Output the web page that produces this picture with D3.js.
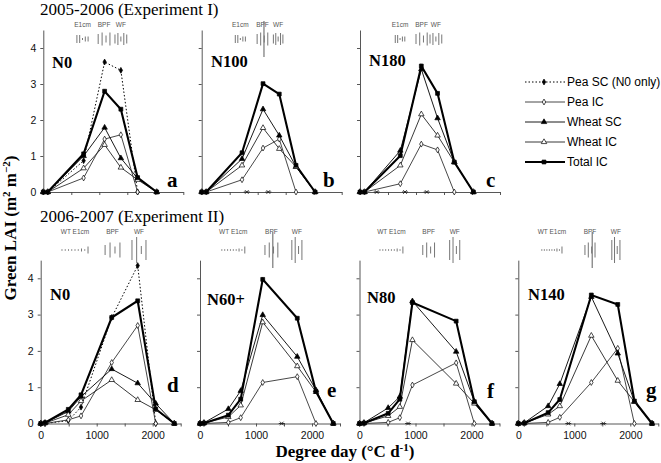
<!DOCTYPE html>
<html><head><meta charset="utf-8">
<script src="https://cdn.jsdelivr.net/npm/d3@7"></script>
<style>body{margin:0;background:#fff}svg{display:block}</style>
</head><body><svg id="c" width="661" height="463"></svg>
<script>
// ---------- DATA ----------
const xTicks = [0, 500, 1000, 1500, 2000, 2500];
const xTickLabels = [0, 1000, 2000];
const yTicks = [0, 1, 2, 3, 4];
const seriesNames = ["Pea SC (N0 only)", "Pea IC", "Wheat SC", "Wheat IC", "Total IC"];

// Experiment I (2005-2006): degree days of sampling
const xExp1 = [0, 80, 720, 1095, 1385, 1684, 2025];
const peaSC_a   = [0, 0, 0.87, 3.61, 3.38, 0, null];
const peaIC_a   = [0, 0, 0.39, 1.47, 1.59, 0, null];
const wheatSC_a = [0, 0, 1.00, 1.79, 0.94, 0.38, 0];
const wheatIC_a = [0, 0, 0.66, 1.31, 0.68, 0.34, 0];
const totalIC_a = [0, 0, 1.06, 2.80, 2.30, 0.40, 0];

const peaIC_b   = [0, 0, 0.34, 1.22, 1.47, 0, null];
const wheatSC_b = [0, 0, 0.92, 2.30, 1.57, 0.70, 0];
const wheatIC_b = [0, 0, 0.74, 1.78, 1.20, 0.70, 0];
const totalIC_b = [0, 0, 1.09, 3.01, 2.72, 0.74, 0];

const peaIC_c   = [0, 0, 0.23, 1.33, 1.17, 0, null];
const wheatSC_c = [0, 0, 1.15, 3.41, 2.05, 0.83, 0];
const wheatIC_c = [0, 0, 0.74, 2.16, 1.57, 0.83, 0];
const totalIC_c = [0, 0, 1.01, 3.50, 2.74, 0.83, 0];

// Experiment II (2006-2007)
const x_d = [0, 77, 493, 720, 1268, 1732, 2054, 2386];
const peaSC_d   = [0, 0, 0.08, 0.45, 2.92, 4.35, 0, null];
const peaIC_d   = [0, 0, 0.10, 0.21, 1.68, 2.70, 0, null];
const wheatSC_d = [0, 0.02, 0.33, 0.74, 1.50, 1.11, 0.55, 0];
const wheatIC_d = [0, 0.01, 0.24, 0.62, 1.20, 0.65, 0.38, 0];
const totalIC_d = [0, 0.02, 0.39, 0.79, 2.92, 3.38, 0.40, 0];

const x_e = [0, 71, 506, 727, 1120, 1737, 2071, 2380];
const peaIC_e   = [0, 0, 0.03, 0.16, 1.13, 1.29, 0, null];
const wheatSC_e = [0, 0.02, 0.40, 0.90, 2.99, 1.84, 0.92, 0];
const wheatIC_e = [0, 0.01, 0.18, 0.50, 2.79, 1.58, 0.87, 0];
const totalIC_e = [0, 0.01, 0.23, 0.67, 3.97, 2.90, 0.88, 0];

const x_f = [0, 80, 512, 720, 945, 1726, 2051, 2366];
const peaIC_f   = [0, 0, 0.03, 0.16, 1.06, 1.67, 0, null];
const wheatSC_f = [0, 0.02, 0.43, 0.74, 3.37, 1.98, 0.60, 0];
const wheatIC_f = [0, 0.01, 0.21, 0.46, 2.30, 1.10, 0.55, 0];
const totalIC_f = [0, 0.01, 0.28, 0.67, 3.33, 2.82, 0.60, 0];

const x_g = [0, 107, 533, 741, 1304, 1776, 2073, 2387];
const peaIC_g   = [0, 0, 0.03, 0.17, 1.13, 2.07, 0, null];
const wheatSC_g = [0, 0.02, 0.48, 1.09, 3.49, 1.93, 0.60, 0];
const wheatIC_g = [0, 0.01, 0.25, 0.48, 2.42, 1.18, 0.60, 0];
const totalIC_g = [0, 0.01, 0.30, 0.66, 3.54, 3.28, 0.62, 0];

// zero-value asterisk markers on the x axis (degree days)
const zeroMarks_b = [805, 1190];
const zeroMarks_c = [298, 804, 1191];
const zeroMarks_e = [1460];
const zeroMarks_f = [867];
const zeroMarks_g = [893, 1518];

// phenological stages (degree-day windows)
const stageNames1 = ["E1cm", "BPF", "WF"];
const stageNames2 = ["WT E1cm", "BPF", "WF"];
const stages_a = [[600, 800], [980, 1190], [1280, 1490]];
const stages_b = [[600, 780], [990, 1180], [1280, 1450]];
const stages_c = [[630, 800], [1000, 1200], [1250, 1460]];
const stages_d = [[380, 845], [1150, 1415], [1630, 1880]];
const stages_e = [[390, 800], [1160, 1390], [1640, 1820]];
const stages_f = [[365, 775], [1130, 1340], [1610, 1790]];
const stages_g = [[420, 780], [1190, 1370], [1670, 1815]];

// ---------- LAYOUT ----------
const svg = d3.select("#c");
const W = 140;
const serif = "'Liberation Serif','Times New Roman',serif";
const sans = "'Liberation Sans',Arial,sans-serif";

const panels = [
  {left: 43.3, zero: 192, unit: 36, row: 1, name: "N0", letter: "a", nx: 52, ny: 68, lx: 167, ly: 187,
   x: xExp1, s: [peaSC_a, peaIC_a, wheatSC_a, wheatIC_a, totalIC_a], marks: [], stages: stages_a, yLab: true, xLab: false},
  {left: 201.7, zero: 192, unit: 36, row: 1, name: "N100", letter: "b", nx: 211, ny: 67, lx: 323, ly: 187,
   x: xExp1, s: [null, peaIC_b, wheatSC_b, wheatIC_b, totalIC_b], marks: zeroMarks_b, stages: stages_b, yLab: false, xLab: false, long: 1112},
  {left: 360, zero: 192, unit: 36, row: 1, name: "N180", letter: "c", nx: 369, ny: 66, lx: 486, ly: 187,
   x: xExp1, s: [null, peaIC_c, wheatSC_c, wheatIC_c, totalIC_c], marks: zeroMarks_c, stages: stages_c, yLab: false, xLab: false},
  {left: 40.7, zero: 423.5, unit: 36.3, row: 2, name: "N0", letter: "d", nx: 50, ny: 300, lx: 167, ly: 392,
   x: x_d, s: [peaSC_d, peaIC_d, wheatSC_d, wheatIC_d, totalIC_d], marks: [], stages: stages_d, yLab: true, xLab: true},
  {left: 200, zero: 423.5, unit: 36.3, row: 2, name: "N60+", letter: "e", nx: 207, ny: 305, lx: 327, ly: 397,
   x: x_e, s: [null, peaIC_e, wheatSC_e, wheatIC_e, totalIC_e], marks: zeroMarks_e, stages: stages_e, yLab: false, xLab: true, long: 1300},
  {left: 359.5, zero: 423.5, unit: 36.3, row: 2, name: "N80", letter: "f", nx: 367, ny: 303, lx: 487, ly: 398,
   x: x_f, s: [null, peaIC_f, wheatSC_f, wheatIC_f, totalIC_f], marks: zeroMarks_f, stages: stages_f, yLab: false, xLab: true},
  {left: 518.3, zero: 423.5, unit: 36.3, row: 2, name: "N140", letter: "g", nx: 528, ny: 300, lx: 646, ly: 397,
   x: x_g, s: [null, peaIC_g, wheatSC_g, wheatIC_g, totalIC_g], marks: zeroMarks_g, stages: stages_g, yLab: false, xLab: true, long: 1320}
];

const styles = [
  {w: 1, dash: "1.5,2", sym: d3.symbolDiamond, size: 10, fill: "#000", col: "#000"},
  {w: 0.9, dash: null, sym: d3.symbolDiamond, size: 10, fill: "#fff", col: "#333"},
  {w: 0.9, dash: null, sym: d3.symbolTriangle, size: 13, fill: "#000", col: "#000"},
  {w: 0.9, dash: null, sym: d3.symbolTriangle, size: 13, fill: "#fff", col: "#222"},
  {w: 2.1, dash: null, sym: d3.symbolSquare, size: 15, fill: "#000", col: "#000"}
];

const e1Pat1 = [8, 8, 2, 5, 5];
const bpfPat1 = [10, 13, 7, 13];
const wfPat1 = [9, 12, 5, 12, 9];
const e1Pat2 = [1.5, 1.5, 1.5, 1.5, 1.5, 1.5, 3, 1.5, 7];
const bpfPat2 = [10, 15, 7, 15];
const wfPat2 = [20, 26, 8, 20];

panels.forEach(p => {
  const x = d3.scaleLinear().domain([0, 2500]).range([p.left, p.left + W]);
  const y = d3.scaleLinear().domain([0, 4.5]).range([p.zero, p.zero - 4.5 * p.unit]);
  const g = svg.append("g");

  // axes
  const xa = d3.axisBottom(x).tickValues(xTicks).tickSize(3).tickSizeOuter(0)
    .tickFormat(d => (p.xLab && xTickLabels.includes(d)) ? d : "");
  const gx = g.append("g").attr("transform", `translate(0,${p.zero})`).call(xa);
  gx.selectAll("text").attr("font-family", sans).attr("font-size", 10.5).attr("dy", "0.95em").attr("fill", "#111");
  const ya = d3.axisLeft(y).tickValues(yTicks).tickSize(3).tickSizeOuter(0)
    .tickFormat(d => p.yLab ? d : "");
  const gy = g.append("g").attr("transform", `translate(${p.left},0)`).call(ya);
  gy.selectAll("text").attr("font-family", sans).attr("font-size", 10.5).attr("x", -7).attr("fill", "#111");
  g.selectAll(".domain, .tick line").attr("stroke", "#444").attr("stroke-width", 0.9);

  // stage markers
  const yc = p.row === 1 ? 39 : 250;
  const ly = p.row === 1 ? 27 : 234;
  const names = p.row === 1 ? stageNames1 : stageNames2;
  const pats = p.row === 1 ? [e1Pat1, bpfPat1, wfPat1] : [e1Pat2, bpfPat2, wfPat2];
  p.stages.forEach((win, k) => {
    const pat = pats[k];
    pat.forEach((h, i) => {
      const xx = x(win[0] + (win[1] - win[0]) * i / (pat.length - 1));
      g.append("line").attr("x1", xx).attr("x2", xx).attr("y1", yc - h / 2).attr("y2", yc + h / 2)
        .attr("stroke", "#666").attr("stroke-width", 0.9);
    });
    g.append("text").attr("x", x((win[0] + win[1]) / 2)).attr("y", ly).attr("text-anchor", "middle")
      .attr("font-family", sans).attr("font-size", 6.5).attr("fill", "#555").text(names[k]);
  });
  if (p.long) {
    const xx = x(p.long);
    g.append("line").attr("x1", xx).attr("x2", xx).attr("y1", yc - 18).attr("y2", yc + 18)
      .attr("stroke", "#777").attr("stroke-width", 1.2);
  }

  // series lines
  const line = d3.line().defined(d => d.v != null).x(d => x(d.x)).y(d => y(d.v));
  p.s.forEach((arr, si) => {
    if (!arr) return;
    const st = styles[si];
    const pts = arr.map((v, i) => ({x: p.x[i], v}));
    g.append("path").datum(pts).attr("d", line).attr("fill", "none")
      .attr("stroke", st.col).attr("stroke-width", st.w).attr("stroke-dasharray", st.dash);
  });
  // markers
  p.s.forEach((arr, si) => {
    if (!arr) return;
    const st = styles[si];
    arr.forEach((v, i) => {
      if (v == null) return;
      g.append("path").attr("d", d3.symbol().type(st.sym).size(st.size)())
        .attr("transform", `translate(${x(p.x[i])},${y(v)})`)
        .attr("fill", st.fill).attr("stroke", "#000").attr("stroke-width", 0.7);
    });
  });
  // asterisk markers at zero
  p.marks.forEach(m => {
    const cx = x(m), cy = y(0);
    g.append("path").attr("d", `M${cx-1.8},${cy-1.8}L${cx+1.8},${cy+1.8}M${cx-1.8},${cy+1.8}L${cx+1.8},${cy-1.8}M${cx-3},${cy}L${cx+3},${cy}`)
      .attr("stroke", "#222").attr("stroke-width", 0.9);
  });

  // labels
  g.append("text").attr("x", p.nx).attr("y", p.ny).attr("font-family", serif).attr("font-weight", "bold")
    .attr("font-size", 16.5).text(p.name);
  g.append("text").attr("x", p.lx).attr("y", p.ly).attr("font-family", serif).attr("font-weight", "bold")
    .attr("font-size", 21).text(p.letter);
});

// titles
svg.append("text").attr("x", 40).attr("y", 15).attr("font-family", serif).attr("font-size", 17).text("2005-2006 (Experiment I)");
svg.append("text").attr("x", 40).attr("y", 222).attr("font-family", serif).attr("font-size", 17).text("2006-2007 (Experiment II)");

// axis titles
const yt = svg.append("text").attr("transform", "translate(16,228) rotate(-90)").attr("text-anchor", "middle")
  .attr("font-family", serif).attr("font-weight", "bold").attr("font-size", 17);
yt.append("tspan").text("Green LAI (m");
yt.append("tspan").attr("font-size", 11).attr("dy", -6).text("2");
yt.append("tspan").attr("dy", 6).text(" m");
yt.append("tspan").attr("font-size", 11).attr("dy", -6).text("−2");
yt.append("tspan").attr("dy", 6).text(")");

const xt = svg.append("text").attr("x", 345).attr("y", 457).attr("text-anchor", "middle")
  .attr("font-family", serif).attr("font-weight", "bold").attr("font-size", 17);
xt.append("tspan").text("Degree day (°C d");
xt.append("tspan").attr("font-size", 11).attr("dy", -6).text("-1");
xt.append("tspan").attr("dy", 6).text(")");

// legend
const lg = svg.append("g");
seriesNames.forEach((name, i) => {
  const st = styles[i];
  const yy = 82 + i * 20;
  lg.append("line").attr("x1", 525).attr("x2", 565).attr("y1", yy).attr("y2", yy)
    .attr("stroke", st.col).attr("stroke-width", st.w).attr("stroke-dasharray", st.dash);
  lg.append("path").attr("d", d3.symbol().type(st.sym).size(st.size)())
    .attr("transform", `translate(544,${yy})`).attr("fill", st.fill).attr("stroke", "#000").attr("stroke-width", 0.7);
  lg.append("text").attr("x", 567).attr("y", yy + 4).attr("font-family", sans).attr("font-size", 12).text(name);
});
</script></body></html>
